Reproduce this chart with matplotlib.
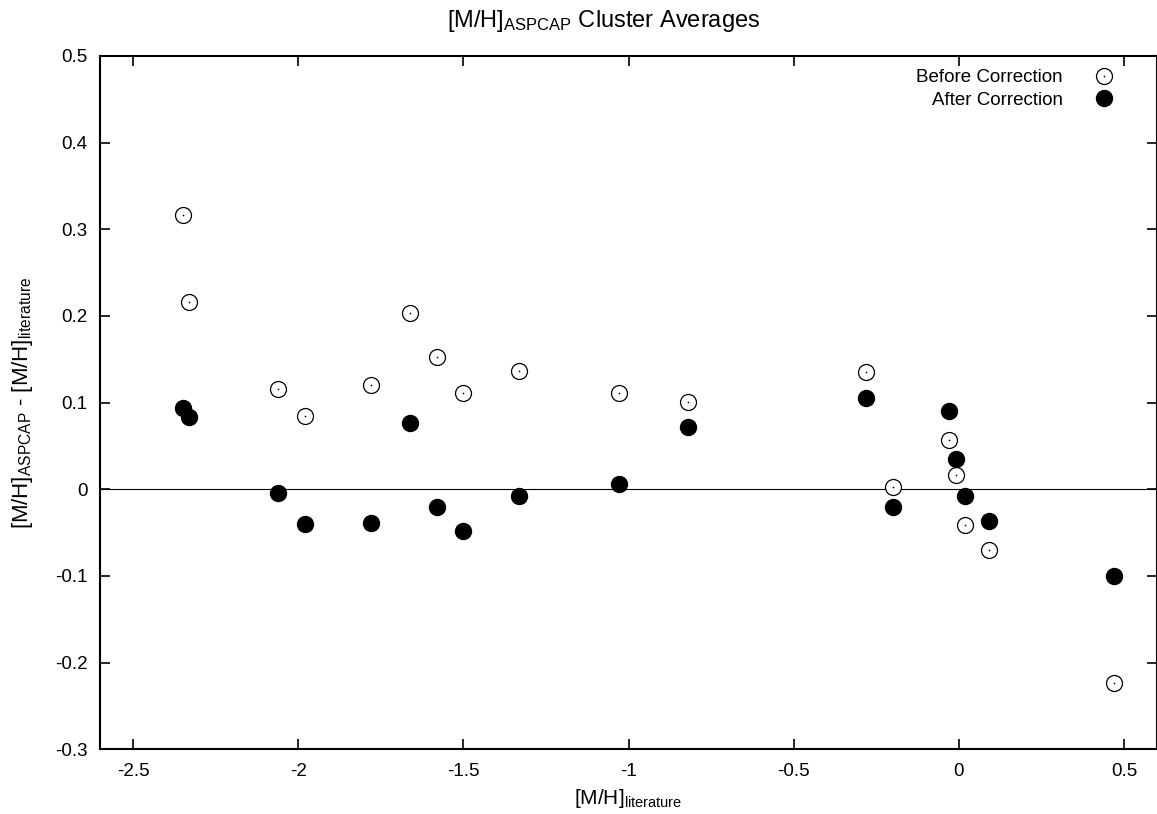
import numpy as np
import matplotlib
matplotlib.use("Agg")
from matplotlib import pyplot as plt
from matplotlib.legend_handler import HandlerTuple
from matplotlib.ticker import FormatStrFormatter

plt.rcParams['font.family'] = ['Liberation Sans', 'DejaVu Sans']
plt.rcParams['mathtext.fontset'] = 'custom'
plt.rcParams['mathtext.rm'] = 'Liberation Sans'
plt.rcParams['mathtext.it'] = 'Liberation Sans:italic'
plt.rcParams['axes.unicode_minus'] = False

# cluster [M/H] from literature
mh_lit = [-2.35, -2.33, -2.06, -1.98, -1.78, -1.66, -1.58, -1.50, -1.33,
          -1.03, -0.82, -0.28, -0.20, -0.03, -0.01, 0.02, 0.09, 0.47]
# ASPCAP - literature, before and after the calibration
diff_before = [0.317, 0.216, 0.116, 0.085, 0.120, 0.204, 0.153, 0.111, 0.137,
               0.111, 0.101, 0.135, 0.003, 0.057, 0.016, -0.041, -0.070, -0.224]
diff_after = [0.094, 0.083, -0.004, -0.040, -0.039, 0.077, -0.020, -0.048, -0.008,
              0.006, 0.072, 0.105, -0.020, 0.090, 0.035, -0.008, -0.037, -0.100]

xticks = [-2.5, -2, -1.5, -1, -0.5, 0, 0.5]
yticks = [-0.3, -0.2, -0.1, 0, 0.1, 0.2, 0.3, 0.4, 0.5]

fig = plt.figure(figsize=(11.57, 8.14), dpi=100)
ax = fig.add_axes([100 / 1157, 1 - 749.3 / 814, 1 - 100 / 1157, (749.3 - 56) / 814])

ax.axhline(0, color='black', lw=0.8, zorder=1)

# open circle with a dot in the middle (gnuplot style)
ring, = ax.plot(mh_lit, diff_before, ls='none', marker='o', ms=11.5,
                mfc='white', mec='black', mew=0.9, zorder=3)
dot, = ax.plot(mh_lit, diff_before, ls='none', marker='o', ms=1.2,
               mfc='black', mec='none', zorder=4)
filled, = ax.plot(mh_lit, diff_after, ls='none', marker='o', ms=11.5,
                  mfc='black', mec='black', zorder=3)

ax.set_xlim(-2.6, 0.6)
ax.set_ylim(-0.3, 0.5)
ax.set_xticks(xticks)
ax.set_yticks(yticks)
ax.xaxis.set_major_formatter(FormatStrFormatter('%g'))
ax.yaxis.set_major_formatter(FormatStrFormatter('%g'))
ax.tick_params(direction='in', length=7, width=1.2, top=True, right=True,
               labelsize=13.5)
ax.tick_params(axis='x', pad=10)
ax.tick_params(axis='y', pad=9)
for s in ax.spines.values():
    s.set_linewidth(1.5)

ax.set_xlabel(r'[M/H]$_{\mathrm{literature}}$', fontsize=15, labelpad=5)
ax.set_ylabel(r'[M/H]$_{\mathrm{ASPCAP}}$ - [M/H]$_{\mathrm{literature}}$',
              fontsize=16, labelpad=14)
fig.text(604 / 1157, 1 - 21 / 814, r'[M/H]$_{\mathrm{ASPCAP}}$ Cluster Averages',
         ha='center', va='center', fontsize=17)

leg = ax.legend([(ring, dot), filled], ['Before Correction', 'After Correction'],
                handler_map={tuple: HandlerTuple(ndivide=1)},
                loc='upper right', bbox_to_anchor=(1115 / 1157, 1 - 69 / 814),
                bbox_transform=fig.transFigure, frameon=False, markerfirst=False,
                fontsize=13.5, handlelength=1.2, handletextpad=1.6,
                labelspacing=0.3, borderpad=0, borderaxespad=0)
# right-align the entries, gnuplot style
for col in leg._legend_handle_box.get_children():
    col.align = 'right'

fig.savefig('out.png', dpi=100)
